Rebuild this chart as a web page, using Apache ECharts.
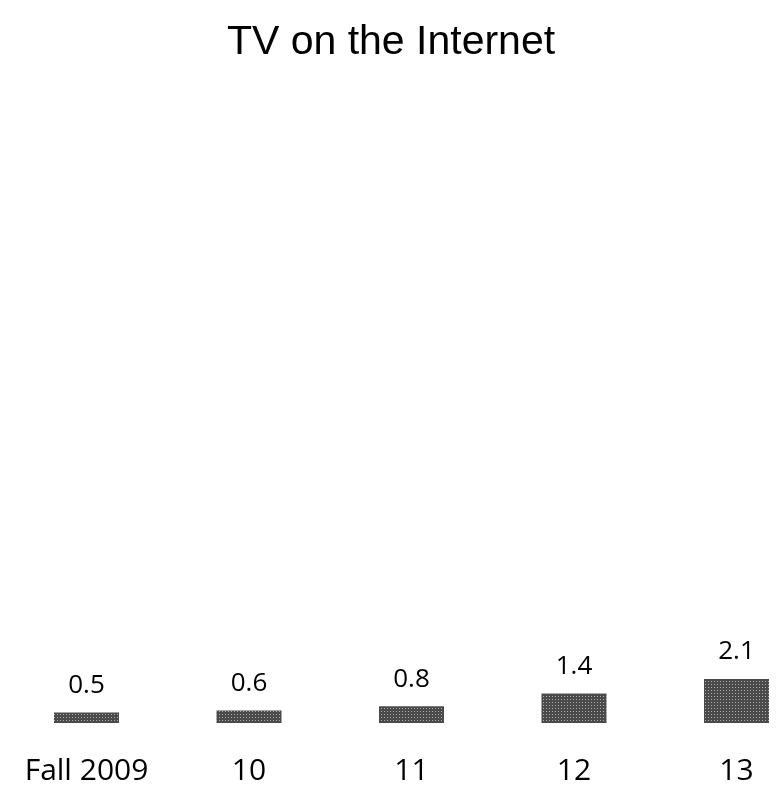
<!DOCTYPE html>
<html>
<head>
<meta charset="utf-8">
<script src="https://cdn.jsdelivr.net/npm/echarts@6/dist/echarts.min.js"></script>
<style>
  html, body { margin: 0; padding: 0; background: #fff; }
  #chart { width: 782px; height: 793px; }
</style>
</head>
<body>
<div id="chart"></div>
<script>
// TV on the Internet
const categories = ['Fall 2009', '10', '11', '12', '13'];
const values = [0.5, 0.6, 0.8, 1.4, 2.1];

const chart = echarts.init(document.getElementById('chart'));

chart.setOption({
  backgroundColor: '#fff',
  animation: false,
  title: {
    text: 'TV on the Internet',
    left: 'center',
    top: 17,
    textStyle: {
      fontFamily: '"Liberation Sans", Arial, sans-serif',
      fontSize: 41,
      fontWeight: 'normal',
      color: '#000'
    }
  },
  grid: {
    left: 86.5,
    right: 45.5,
    top: 93,
    bottom: 70
  },
  xAxis: {
    type: 'category',
    data: categories,
    boundaryGap: false,
    axisLine: { show: false },
    axisTick: { show: false },
    axisLabel: {
      interval: 0,
      margin: 33,
      color: '#000',
      fontFamily: '"Open Sans", sans-serif',
      fontSize: 30
    }
  },
  yAxis: {
    type: 'value',
    min: 0,
    max: 30,
    show: false,
    splitLine: { show: false }
  },
  series: [{
    type: 'bar',
    data: values,
    barWidth: 65,
    itemStyle: {
      color: '#4a4a4a',
      decal: {
        symbol: 'rect',
        symbolSize: 1,
        color: 'rgba(255,255,255,0.55)',
        dashArrayX: [1, 2],
        dashArrayY: [1, 2],
        rotation: 0
      }
    },
    label: {
      show: true,
      position: 'top',
      distance: 14,
      color: '#000',
      fontFamily: '"Open Sans", sans-serif',
      fontSize: 26
    }
  }]
});
</script>
</body>
</html>
